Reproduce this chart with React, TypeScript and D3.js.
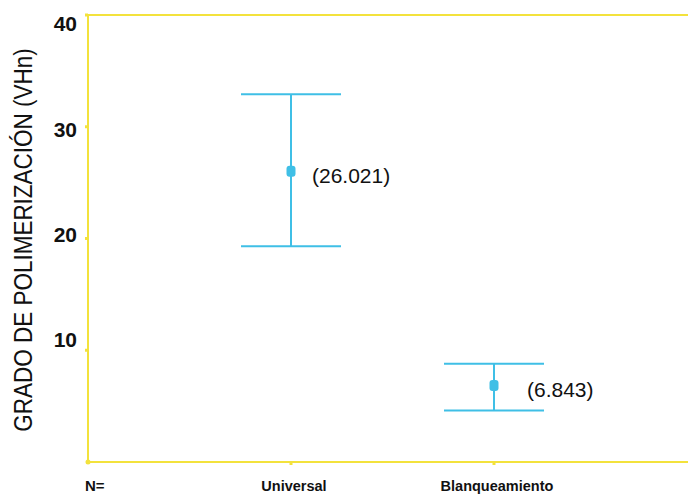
import React from "react";
import * as d3 from "d3";

// Groups, means and 95% confidence limits (VHn)
const groups = ["Universal", "Blanqueamiento"];
const means = [26.021, 6.843];
const lowerLimits = [19.3, 4.6];
const upperLimits = [32.9, 8.8];
const yTicks = [10, 20, 30, 40];

const W = 688;
const H = 496;
const YELLOW = "#f3e23c";
const CYAN = "#3fbfe6";
const FONT = "'Liberation Sans', Arial, sans-serif";

// per-group nudge of the value label to the right of its marker
const labelDx = [21, 33];

export default function App() {
  const left = 88;
  const top = 15;
  const bottom = 462;

  const y = d3.scaleLinear().domain([0, 40]).range([bottom, top]);
  // tick numerals sit on a slightly tighter scale than the axis line
  const yLabel = d3.scaleLinear().domain([0, 40]).range([445, 24]);
  const x = d3
    .scalePoint<string>()
    .domain(["N=", ...groups, "__end"])
    .range([left, 697]);

  const capHalf = 50;

  return (
    <svg
      width={W}
      height={H}
      style={{ position: "absolute", left: 0, top: 0, background: "#fff" }}
    >
      <rect width={W} height={H} fill="#fff" />

      {/* frame */}
      <line x1={left} x2={W} y1={top} y2={top} stroke={YELLOW} strokeWidth={2} />
      <line x1={left} x2={W} y1={bottom} y2={bottom} stroke={YELLOW} strokeWidth={2} />
      <line x1={left} x2={left} y1={top} y2={bottom} stroke={YELLOW} strokeWidth={2} />
      <circle cx={left} cy={bottom} r={2.5} fill={YELLOW} />

      {/* y axis ticks and numerals */}
      {yTicks.map((t) => (
        <g key={t}>
          <line x1={left - 3} x2={left} y1={y(t)} y2={y(t)} stroke={YELLOW} strokeWidth={3} />
          <text
            x={77}
            y={yLabel(t)}
            dy="0.35em"
            textAnchor="end"
            fontFamily={FONT}
            fontWeight="bold"
            fontSize={21}
            fill="#111"
          >
            {t}
          </text>
        </g>
      ))}

      {/* y axis title */}
      <text
        transform={`translate(32, ${240}) rotate(-90) scale(1, 1.12)`}
        textAnchor="middle"
        fontFamily={FONT}
        fontSize={22.5}
        fill="#111"
      >
        GRADO DE POLIMERIZACIÓN (VHn)
      </text>

      {/* x axis ticks and labels */}
      {groups.map((g) => (
        <line
          key={g}
          x1={x(g)!}
          x2={x(g)!}
          y1={bottom}
          y2={bottom + 3}
          stroke={YELLOW}
          strokeWidth={3}
        />
      ))}
      <text x={x("N=")! - 3} y={491} fontFamily={FONT} fontWeight="bold" fontSize={15} fill="#111">
        N=
      </text>
      {groups.map((g) => (
        <text
          key={g}
          x={x(g)! + 3}
          y={491}
          textAnchor="middle"
          fontFamily={FONT}
          fontWeight="bold"
          fontSize={14.5}
          fill="#111"
        >
          {g}
        </text>
      ))}

      {/* error bars */}
      {groups.map((g, i) => {
        const cx = x(g)!;
        const cy = y(means[i]);
        return (
          <g key={g}>
            <line x1={cx} x2={cx} y1={y(upperLimits[i])} y2={y(lowerLimits[i])} stroke={CYAN} strokeWidth={2} />
            <line
              x1={cx - capHalf}
              x2={cx + capHalf}
              y1={y(upperLimits[i])}
              y2={y(upperLimits[i])}
              stroke={CYAN}
              strokeWidth={2}
            />
            <line
              x1={cx - capHalf}
              x2={cx + capHalf}
              y1={y(lowerLimits[i])}
              y2={y(lowerLimits[i])}
              stroke={CYAN}
              strokeWidth={2}
            />
            <rect x={cx - 4.5} y={cy - 5.5} width={9} height={11} rx={3} fill={CYAN} />
            <text
              x={cx + labelDx[i]}
              y={cy + 4}
              dy="0.35em"
              fontFamily={FONT}
              fontSize={21}
              fill="#111"
            >
              ({means[i].toFixed(3)})
            </text>
          </g>
        );
      })}
    </svg>
  );
}
